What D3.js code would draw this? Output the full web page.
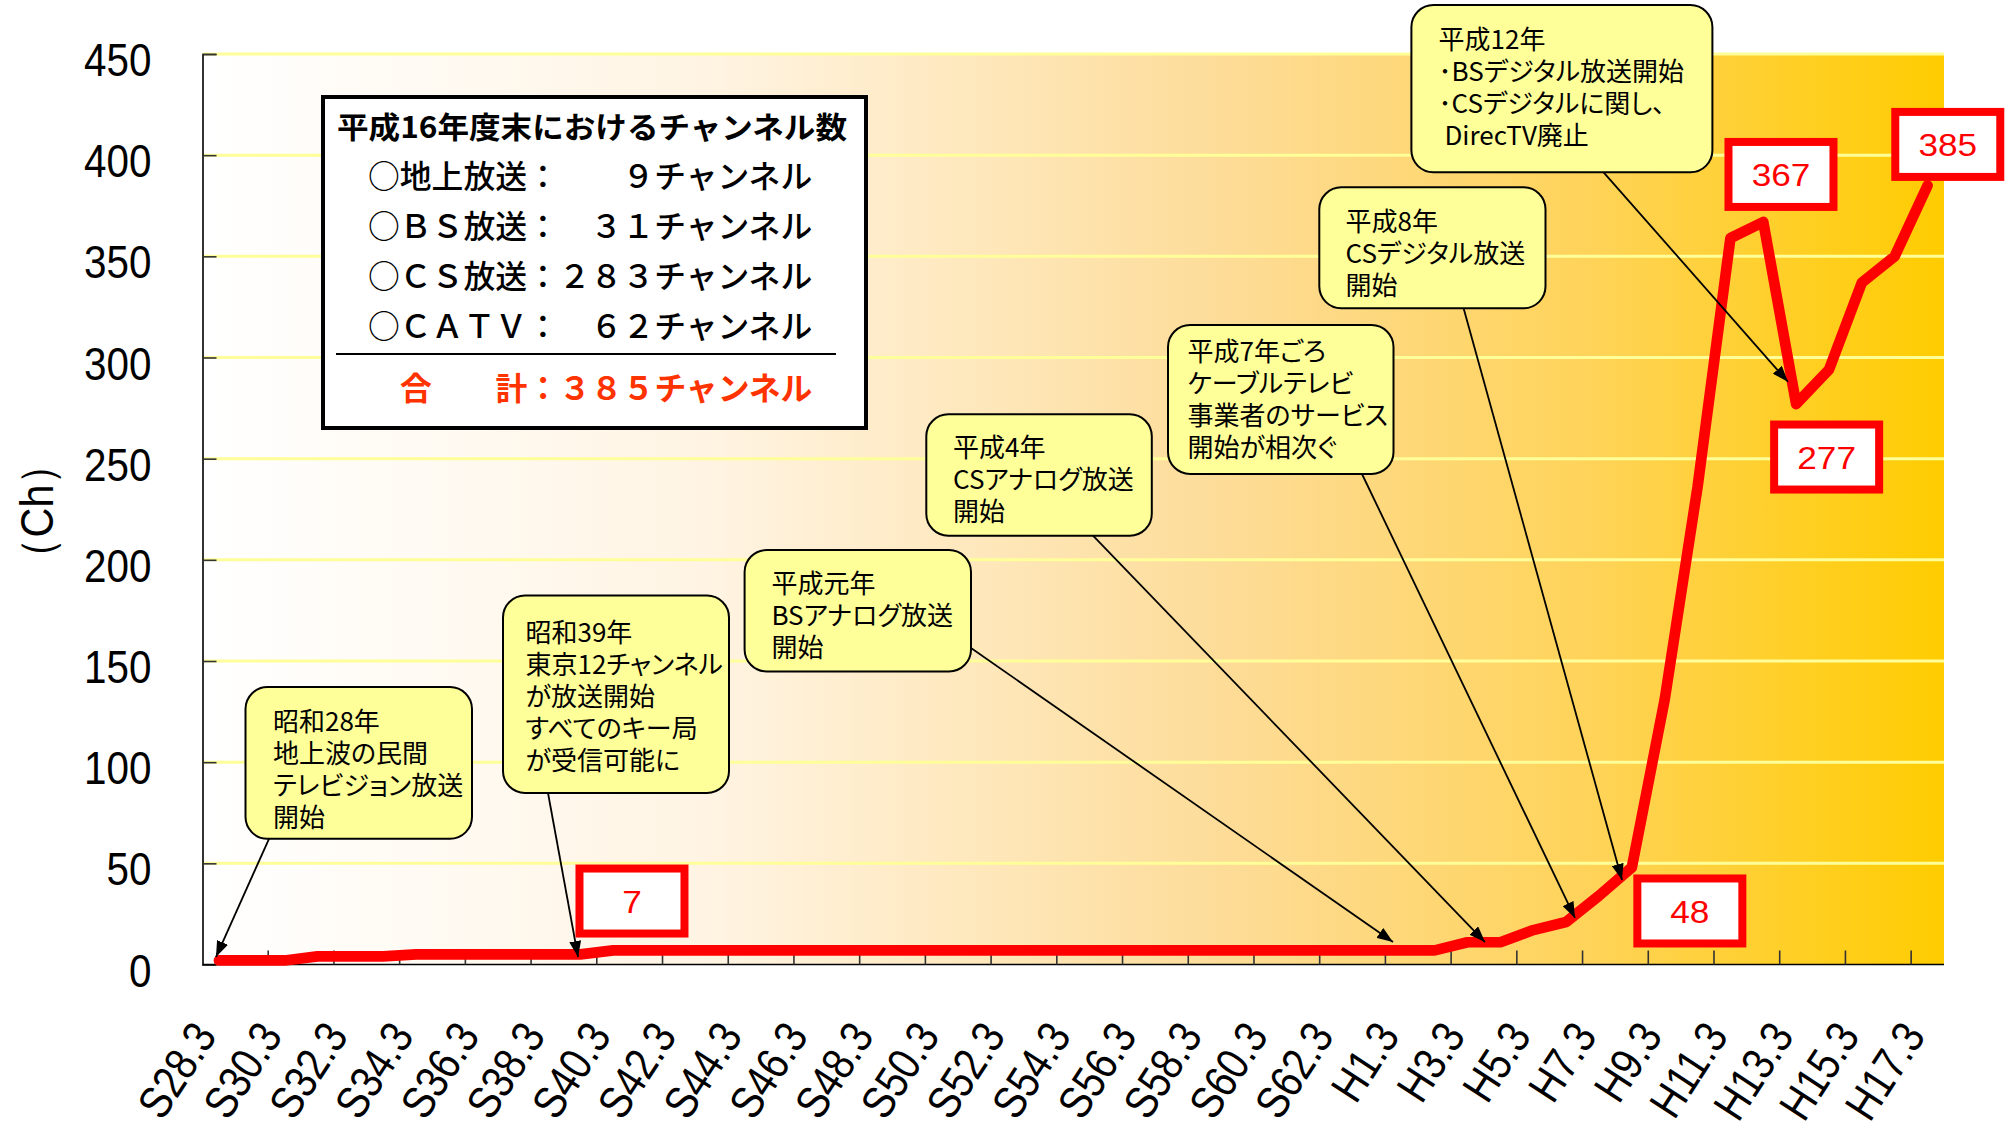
<!DOCTYPE html>
<html><head><meta charset="utf-8">
<script src="https://d3js.org/d3.v7.min.js"></script>
<style>body{margin:0;background:#fff;} svg{display:block} .note{font-feature-settings:"palt" 1;}</style>
</head><body>
<svg id="chart" width="2013" height="1139"></svg>
<script>
// ---------------- DATA ----------------
const categories = [
  "S28.3","S29.3","S30.3","S31.3","S32.3","S33.3","S34.3","S35.3","S36.3","S37.3",
  "S38.3","S39.3","S40.3","S41.3","S42.3","S43.3","S44.3","S45.3","S46.3","S47.3",
  "S48.3","S49.3","S50.3","S51.3","S52.3","S53.3","S54.3","S55.3","S56.3","S57.3",
  "S58.3","S59.3","S60.3","S61.3","S62.3","S63.3","H1.3","H2.3","H3.3","H4.3",
  "H5.3","H6.3","H7.3","H8.3","H9.3","H10.3","H11.3","H12.3","H13.3","H14.3",
  "H15.3","H16.3","H17.3"
];
const channels = [
  2,2,2,4,4,4,5,5,5,5,
  5,5,7,7,7,7,7,7,7,7,
  7,7,7,7,7,7,7,7,7,7,
  7,7,7,7,7,7,7,7,11,11,
  17,21,34,48,131,236,359,367,277,294,
  337,350,385
];
const xTickLabels = [
  "S28.3","S30.3","S32.3","S34.3","S36.3","S38.3","S40.3","S42.3","S44.3","S46.3",
  "S48.3","S50.3","S52.3","S54.3","S56.3","S58.3","S60.3","S62.3","H1.3","H3.3",
  "H5.3","H7.3","H9.3","H11.3","H13.3","H15.3","H17.3"
];
const yTicks = [0,50,100,150,200,250,300,350,400,450];
const yTitle = "（Ch）";
const labelledPoints = ["S40.3","H8.3","H12.3","H13.3","H17.3"];

const legendTitle = "平成16年度末におけるチャンネル数";
const legendRows = [
  "○地上放送：　　９チャンネル",
  "○ＢＳ放送：　３１チャンネル",
  "○ＣＳ放送：２８３チャンネル",
  "○ＣＡＴＶ：　６２チャンネル"
];
const legendTotal = "合　　計：３８５チャンネル";

const noteTexts = [
  ["昭和28年","地上波の民間","テレビジョン放送","開始"],
  ["昭和39年","東京12チャンネル","が放送開始","すべてのキー局","が受信可能に"],
  ["平成元年","BSアナログ放送","開始"],
  ["平成4年","CSアナログ放送","開始"],
  ["平成7年ごろ","ケーブルテレビ","事業者のサービス","開始が相次ぐ"],
  ["平成8年","CSデジタル放送","開始"],
  ["平成12年","･BSデジタル放送開始","･CSデジタルに関し、"," DirecTV廃止"]
];
// arrow targets in data space: [category index (fractional), value]
const noteTargets = [[-0.09,3.7],[10.93,3.7],[35.73,11.1],[38.53,11.1],[41.27,23],[42.7,41.8],[47.75,288]];

// ---------------- LAYOUT ----------------
const plot = {left:202.5, right:1944, top:54, bottom:964.5};
const noteBoxes = [ // x,y,w,h, textX, firstLineY, arrow start
  {x:245.5,y:687,w:226.5,h:151.8,tx:273,ty:721.5,ax:269,ay:838.8},
  {x:503,y:595.5,w:226,h:197.5,tx:525.5,ty:633,ax:548,ay:793},
  {x:744.6,y:550,w:226.4,h:121.4,tx:771.4,ty:584,ax:971,ay:648},
  {x:926.3,y:414.3,w:225.5,h:121.4,tx:953,ty:448,ax:1093,ay:535.7},
  {x:1168,y:325,w:225.5,h:149,tx:1187.5,ty:352,ax:1362,ay:474},
  {x:1319.3,y:187.3,w:226.2,h:121,tx:1345.5,ty:221.7,ax:1463.6,ay:308.3},
  {x:1411.4,y:5,w:301,h:167.3,tx:1438.6,ty:39.3,ax:1603.6,ay:172.3}
];
const labelOffsets = [[18.75,-49.3],[58,43.6],[17.7,-47.5],[30.5,53],[20.2,-41.1]];

const SANS = "'Liberation Sans',Arial,sans-serif";
const JP = "'Noto Sans CJK JP','Noto Sans',sans-serif";

const svg = d3.select("#chart");
const defs = svg.append("defs");
const grad = defs.append("linearGradient").attr("id","bg").attr("x1","0").attr("x2","1").attr("y1","0").attr("y2","0");
[[0,"#FFFFFF"],[0.29,"#FFF4E3"],[0.585,"#FDDC98"],[0.8,"#FFD358"],[1,"#FFCC00"]].forEach(s=>{
  grad.append("stop").attr("offset",s[0]).attr("stop-color",s[1]);
});
defs.append("marker").attr("id","arrow").attr("viewBox","0 0 16 12")
  .attr("refX",16).attr("refY",6).attr("markerWidth",16).attr("markerHeight",12)
  .attr("markerUnits","userSpaceOnUse").attr("orient","auto")
  .append("path").attr("d","M0,0L16,6L0,12Z").attr("fill","#000");

const x = d3.scaleBand().domain(categories).range([plot.left, plot.right]).padding(0);
const bw = x.bandwidth();
const xc = c => x(c) + bw/2;
const xIdx = d3.scaleLinear().domain([-0.5, categories.length-0.5]).range([plot.left, plot.right]);
const y = d3.scaleLinear().domain([0,450]).range([plot.bottom, plot.top]);

// background
svg.append("rect").attr("x",plot.left).attr("y",plot.top)
  .attr("width",plot.right-plot.left).attr("height",plot.bottom-plot.top).attr("fill","url(#bg)");

// gridlines
svg.append("g").selectAll("line").data(yTicks.filter(d=>d>0)).join("line")
  .attr("x1",plot.left).attr("x2",plot.right).attr("y1",d=>y(d)).attr("y2",d=>y(d))
  .attr("stroke","#FFFF99").attr("stroke-width",3);

// y axis
const yAxis = d3.axisLeft(y).tickValues(yTicks).tickSize(-14).tickPadding(51);
const gy = svg.append("g").attr("transform",`translate(${plot.left},0)`).call(yAxis);
gy.select(".domain").attr("stroke","#000").attr("stroke-width",1.6);
gy.selectAll(".tick line").attr("stroke","#333").attr("stroke-width",1.6);
gy.selectAll(".tick text").attr("font-family",SANS).attr("font-size",47).attr("fill","#000")
  .attr("x",0).attr("dy","0.46em").attr("transform","translate(-51,0) scale(0.86,1)");

// x axis line and ticks (ticks at every 2nd category boundary)
const xAxisG = svg.append("g");
xAxisG.append("line").attr("x1",plot.left).attr("x2",plot.right).attr("y1",plot.bottom).attr("y2",plot.bottom)
  .attr("stroke","#000").attr("stroke-width",1.6);
xAxisG.selectAll("line.tk").data(categories.filter((c,i)=>i>0 && i%2===0)).join("line").attr("class","tk")
  .attr("x1",d=>x(d)).attr("x2",d=>x(d)).attr("y1",plot.bottom).attr("y2",plot.bottom-14)
  .attr("stroke","#333").attr("stroke-width",1.6);
xAxisG.selectAll("text").data(xTickLabels).join("text")
  .attr("transform",d=>`translate(${xc(d)-1},1036) rotate(-57) scale(0.85,1)`)
  .attr("text-anchor","end").attr("font-family",SANS).attr("font-size",46).attr("fill","#000")
  .text(d=>d);

// y title
svg.append("text").attr("transform","translate(53,511) rotate(-90) scale(0.9,1)").attr("text-anchor","middle")
  .attr("font-family",SANS).attr("font-size",46).attr("fill","#000").text(yTitle);

// line
const line = d3.line().x((d,i)=>xc(categories[i])).y(d=>y(d));
svg.append("path").datum(channels).attr("d",line).attr("fill","none")
  .attr("stroke","#FF0000").attr("stroke-width",10.7).attr("stroke-linejoin","round").attr("stroke-linecap","round");

// legend box
const lg = svg.append("g");
lg.append("rect").attr("x",323).attr("y",97).attr("width",543).attr("height",331)
  .attr("fill","#fff").attr("stroke","#000").attr("stroke-width",4);
lg.append("text").attr("x",337).attr("y",138).attr("font-family",JP).attr("font-weight",700)
  .attr("font-size",30).attr("textLength",510).attr("lengthAdjust","spacingAndGlyphs").text(legendTitle);
lg.selectAll("text.row").data(legendRows).join("text").attr("class","row")
  .attr("x",368).attr("y",(d,i)=>188+i*50).attr("font-family",JP).attr("font-size",31.8).attr("font-weight",500)
  .attr("fill","#000").text(d=>d);
lg.append("line").attr("x1",336).attr("x2",836).attr("y1",354).attr("y2",354).attr("stroke","#000").attr("stroke-width",2);
lg.append("text").attr("x",400).attr("y",400).attr("font-family",JP).attr("font-size",31.8).attr("font-weight",700)
  .attr("fill","#FF3300").text(legendTotal);

// callouts
const ng = svg.append("g");
noteTexts.forEach((lines,i)=>{
  const b = noteBoxes[i], t = noteTargets[i];
  ng.append("line").attr("x1",b.ax).attr("y1",b.ay).attr("x2",xIdx(t[0])).attr("y2",y(t[1]))
    .attr("stroke","#000").attr("stroke-width",1.8).attr("marker-end","url(#arrow)");
  ng.append("rect").attr("x",b.x).attr("y",b.y).attr("width",b.w).attr("height",b.h).attr("rx",22).attr("ry",22)
    .attr("fill","#FFFF99").attr("stroke","#000").attr("stroke-width",2);
  const tx = ng.append("text").attr("class","note").attr("font-family",JP).attr("font-size",26)
    .attr("fill","#000").style("white-space","pre");
  tx.selectAll("tspan").data(lines).join("tspan")
    .attr("x",b.tx).attr("y",(d,j)=>b.ty+j*32).attr("dy","0.36em").text(d=>d);
});

// value labels
const vg = svg.append("g");
labelledPoints.forEach((c,i)=>{
  const v = channels[categories.indexOf(c)];
  const cx = xc(c) + labelOffsets[i][0], cy = y(v) + labelOffsets[i][1];
  vg.append("rect").attr("x",cx-52.5).attr("y",cy-32.5).attr("width",105).attr("height",65)
    .attr("fill","#fff").attr("stroke","#FF0000").attr("stroke-width",8);
  vg.append("text").attr("transform",`translate(${cx},${cy}) scale(1.1,1)`).attr("dy","0.36em").attr("text-anchor","middle")
    .attr("font-family",SANS).attr("font-size",32).attr("fill","#FF0000").text(v);
});
</script>
</body></html>
